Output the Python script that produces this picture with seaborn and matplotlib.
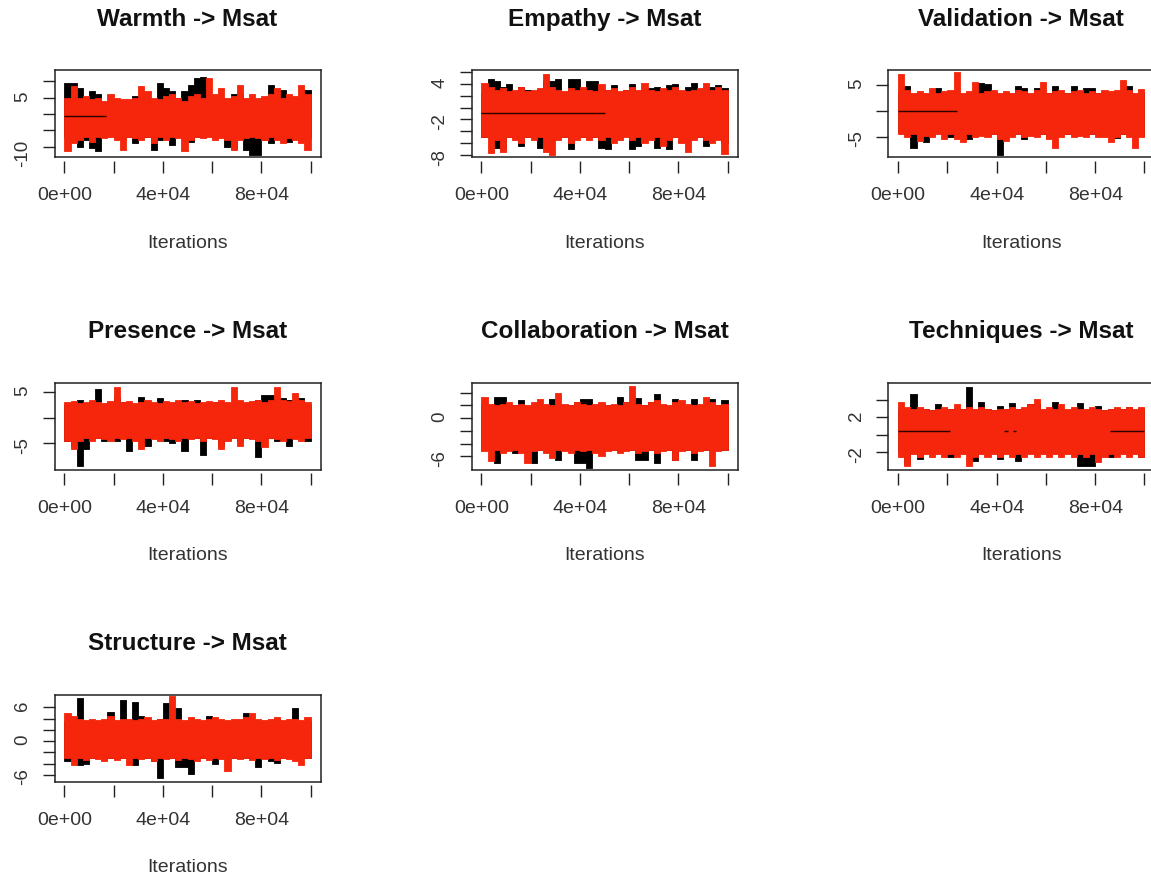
import numpy as np
import pandas as pd
import matplotlib
matplotlib.use("Agg")
import matplotlib.pyplot as plt
import seaborn as sns

n_iter = 100000
x_ticks = [0, 20000, 40000, 60000, 80000, 100000]
x_labels = ["0e+00", "", "4e+04", "", "8e+04", ""]

titles = ["Warmth -> Msat", "Empathy -> Msat", "Validation -> Msat",
          "Presence -> Msat", "Collaboration -> Msat", "Techniques -> Msat",
          "Structure -> Msat"]

# trace envelopes read per 2500-iteration block (upper / lower edge of each chain)
warmth_black_hi = [9.5, 9.5, 8, 4, 7, 6, 3, 4, 3.5, 3, 4, 5.5, 3, 4, 3.5, 9.5, 8, 7, 5, 7,
                   9, 11, 11.5, 5, 4, 5, 4, 6, 6, 3.5, 4, 4, 5, 9, 6, 7.5, 4, 4, 5, 7.5]
warmth_black_lo = [-7, -7, -10, -8, -10.5, -11.5, -7, -6.5, -7, -7.5, -7, -9, -7, -7, -11, -8, -7, -9.5, -7, -7,
                   -8.5, -7, -7, -6.5, -7, -7, -10, -10.5, -7, -11, -12.5, -12.7, -8, -9, -7, -7, -8.5, -7, -7, -7.5]
warmth_red_hi = [5, 8.5, 5, 5.5, 4.5, 5, 4, 6, 5, 4.5, 4.5, 5, 8.5, 7, 5, 4.5, 5.5, 6, 5, 4,
                 5.5, 6, 5, 11, 6, 8, 5, 5.5, 9, 5, 6, 5, 5.5, 6, 8, 5, 6, 5.5, 9, 6]
warmth_red_lo = [-11.5, -9, -8, -7, -8.5, -7, -7.5, -7, -8, -11, -7, -7.5, -8, -7, -9, -7, -8, -7, -7.5, -11.5,
                 -8, -7, -7.5, -7, -8, -7.5, -8, -11, -8, -7.5, -7, -7.5, -8, -7, -8, -9, -7.5, -8, -9, -11]

empathy_black_hi = [2.5, 4.8, 4.5, 3.5, 4, 2.5, 3.5, 3, 2.5, 3, 4.5, 4.5, 4.8, 2.5, 4.8, 4.8, 2.5, 4.5, 4.5, 2.5,
                    3, 3.8, 2.5, 3, 4, 2.5, 3, 3.2, 3.5, 3, 3.8, 4, 2.5, 3.5, 4.2, 3, 2.5, 3.5, 3.8, 3.2]
empathy_black_lo = [-5, -4.5, -6.8, -7, -5, -4.5, -6.5, -5, -4.5, -6.8, -5, -4.5, -5, -5, -7, -4.5, -5, -4.5, -5, -6.8,
                    -7, -4.5, -5, -4.5, -7, -6.5, -4.5, -5, -6.8, -4.5, -7, -5, -4.5, -5, -4.5, -5, -6.5, -5, -5, -6]
empathy_red_hi = [4.2, 3.5, 3, 3.2, 2.8, 3, 3.5, 2.8, 3, 3.2, 5.7, 3.5, 3, 2.8, 3.2, 3, 3.5, 3, 2.8, 4,
                  3, 3.2, 2.8, 3, 3.5, 3, 4.2, 3, 2.8, 3.2, 3, 3.5, 3, 2.8, 3, 3.2, 4.2, 3, 3.5, 3]
empathy_red_lo = [-5, -7.7, -5.5, -7.5, -5, -5.5, -6, -5, -5.5, -5, -7.5, -8, -5.5, -5, -6, -5.5, -5, -5.5, -5, -5.5,
                  -5, -6, -5.5, -5, -5.5, -5, -6, -5.5, -5, -6.5, -5.5, -5, -6, -7.5, -5.5, -5, -5.5, -6, -5.5, -7.8]

validation_black_hi = [3.5, 4.9, 3, 3.5, 3, 3, 4.5, 3, 3, 3.5, 3, 3.5, 3, 5.4, 5.2, 3.5, 3, 3.5, 3, 4.8,
                       4.5, 3.2, 4.5, 3, 3.5, 4.8, 3, 3.5, 4.9, 3.5, 4.5, 4.5, 3.5, 3, 3.5, 3, 3.5, 4.9, 3, 3.5]
validation_black_lo = [-4, -4.5, -7.1, -4.5, -6, -4.5, -4, -4.5, -5, -4.5, -5.2, -5.5, -4.5, -4, -4.5, -4.5, -8.6, -4.5, -4, -4.5,
                       -5.5, -4.5, -4, -4.5, -5.2, -4.5, -4, -4.5, -4, -4.5, -4, -4.5, -4, -4.5, -4.5, -5.2, -4.5, -4, -4.5, -4.8]
validation_red_hi = [7.2, 4, 3.5, 3.8, 3.5, 4.5, 3.5, 3.8, 4, 7.5, 3.5, 3.8, 5.5, 3.5, 3.8, 4, 3.5, 3.8, 3.5, 4,
                     3.8, 3.5, 4, 5.5, 3.5, 3.8, 4, 3.5, 3.8, 4, 3.5, 3.8, 3.5, 4, 3.8, 4, 5.9, 4, 3.5, 4.2]
validation_red_lo = [-4.5, -5, -4.5, -5.9, -4.8, -5, -4.5, -5.5, -4.5, -5.5, -6, -4.5, -5, -4.8, -5, -4.5, -5.5, -5.9, -5, -4.5,
                     -5, -4.8, -5, -4.5, -5.5, -7.2, -5, -4.5, -5, -4.8, -5, -4.5, -5, -5, -6, -5, -4.5, -5, -7.2, -5]

presence_black_hi = [2.5, 2.5, 3.5, 2.5, 3, 5.7, 2.5, 3, 4, 3, 2.5, 2.5, 4, 2.5, 2.5, 3.8, 2.5, 2.5, 3, 3.5,
                     2.5, 3.5, 2.5, 2.5, 3, 2.5, 2.5, 2.5, 2.5, 2.5, 3, 3.5, 4.5, 4.5, 3, 3.8, 3.5, 2.5, 3.8, 2.5]
presence_black_lo = [-4.5, -5.5, -9.4, -6, -4, -4, -4.5, -4, -4.5, -4, -6.5, -4, -4, -5.5, -4, -4, -4.5, -5, -4, -6.5,
                     -4, -4, -7.3, -4, -4, -5.5, -4, -4, -4.5, -4, -4, -7.6, -4, -4, -4.5, -4, -5.5, -4, -4, -4.5]
presence_red_hi = [3, 3.2, 2.8, 3, 3.5, 3, 2.8, 3.2, 6, 3, 3.2, 2.8, 3, 3.5, 3, 2.8, 3.2, 3, 3.5, 3,
                   3.2, 2.8, 3, 3.2, 3, 3.5, 3, 6, 3.5, 3, 3.2, 3.5, 3, 3.5, 6.1, 3.5, 3.2, 4.8, 3.5, 3]
presence_red_lo = [-4.5, -6, -4.5, -4, -4.5, -4, -4.2, -4.5, -4, -4.2, -4, -4.5, -6, -4, -4.2, -4.5, -4, -4.2, -4.5, -4,
                   -4.2, -4, -4.5, -4, -4.2, -6, -4.5, -4, -5.5, -4, -4.2, -4.5, -5.8, -4, -4.2, -4.5, -4, -4.2, -4.5, -4]

collaboration_black_hi = [2, 1.8, 3.3, 3.4, 1.8, 2, 2.8, 1.8, 2, 1.8, 2, 3, 1.8, 2, 2, 2.5, 3, 3, 2, 1.8,
                          2, 1.8, 3.3, 2.5, 1.8, 3.2, 2, 2.5, 3.8, 2, 1.8, 3, 2, 2, 3, 2, 1.8, 3, 2, 2.8]
collaboration_black_lo = [-5, -5, -7.1, -5, -5, -5.5, -5, -5, -7, -5, -5, -5, -6.5, -5, -5, -7, -7, -7.8, -5, -5,
                          -5, -5, -5, -5, -5, -6.5, -6.5, -5, -7, -5, -5, -6.5, -5, -5, -6.5, -5, -5, -5, -5, -5]
collaboration_red_hi = [3.4, 2.2, 2, 2.2, 2.5, 2, 2.2, 2, 2.5, 3, 2.2, 2, 4, 2.2, 2, 2.5, 2.2, 2, 2.2, 2.5,
                        2, 2.2, 2, 2.5, 5.1, 2.2, 2, 2.5, 2.8, 2.2, 2, 2.5, 2.8, 2.2, 2, 2.2, 3.4, 2.5, 2, 2.2]
collaboration_red_lo = [-5.2, -6.7, -5, -5.5, -5.2, -5, -5.5, -7, -5.2, -5, -5.5, -6.2, -5, -5.2, -5.5, -5, -5.2, -5, -5.5, -6,
                        -5.2, -5, -5.5, -5.2, -5, -5.5, -5.2, -5, -5.5, -5.2, -5, -6.5, -5.2, -5, -5.5, -5.2, -5, -7.5, -5.2, -5]

techniques_black_hi = [3, 2.8, 4.7, 2.8, 3, 2.8, 3.5, 2.8, 3, 2.8, 3, 5.5, 2.8, 3.8, 3, 2.8, 3.3, 3, 3.6, 3,
                       2.8, 3.5, 3.5, 2.8, 3, 3.8, 3, 2.8, 2.8, 3.6, 2.8, 3, 3.3, 2.8, 3, 2.8, 3, 3.2, 2.8, 3]
techniques_black_lo = [-2, -3.3, -2, -2.8, -2, -2, -2, -2, -2.5, -2, -2, -2, -3, -2, -2, -2, -2.8, -2, -2, -3,
                       -2, -2, -2, -2, -2, -2, -2, -2, -2, -3.5, -3.5, -3.5, -2, -2, -2.5, -2, -2, -2, -2, -2.5]
techniques_red_hi = [3.8, 3.2, 3, 3.2, 3, 2.8, 3, 3.2, 3, 3.5, 3, 3.2, 3, 3.2, 3, 2.8, 3, 3, 3.2, 3,
                     3.2, 3.5, 4.1, 3, 3.2, 3, 3.5, 3, 3.2, 3, 3, 3.2, 3, 2.8, 3, 3.2, 3, 3.2, 3, 3.2]
techniques_red_lo = [-2.5, -3.5, -2.2, -2.5, -2.2, -2.5, -2.2, -2.5, -2.2, -2.5, -2.2, -3.5, -2.5, -2.2, -2.5, -2.2, -2.5, -2.2, -2.5, -2.2,
                     -2.5, -2.2, -2.5, -2.2, -2.5, -2.2, -2.5, -2.2, -2.5, -2.2, -2.5, -2.2, -3.1, -2.5, -2.2, -2.5, -2.2, -2.5, -2.2, -2.5]

structure_black_hi = [3.5, 3.5, 7.6, 3.5, 3.5, 3.5, 3.5, 5.2, 3.5, 7.3, 3.5, 7, 4.5, 3.5, 3.5, 4, 6.8, 3.5, 5.8, 3.5,
                      3.5, 3.5, 3.5, 4.5, 3.5, 3.5, 3.5, 3.5, 3.5, 5, 3.5, 3.5, 3.5, 3.5, 4, 3.5, 3.5, 5.9, 3.5, 3.5]
structure_black_lo = [-3.6, -3.5, -4.2, -4, -3, -3, -3, -3, -3, -3, -3, -4.2, -3, -3, -3.5, -6.5, -3, -3, -4.5, -4.5,
                      -5.8, -3, -3, -3, -4, -3, -3, -3, -3, -3, -3, -4.5, -3, -3.5, -3.8, -3, -3, -3, -3, -3]
structure_red_hi = [5, 4.5, 4, 3.8, 4, 3.8, 4, 4.5, 3.8, 4, 4, 3.8, 4, 4.2, 3.8, 4, 4, 7.9, 4, 3.8,
                    4.2, 4, 3.8, 4, 4.2, 4, 3.8, 4, 4, 4.2, 5, 4, 3.8, 4, 4.2, 3.8, 4, 4, 3.8, 4.2]
structure_red_lo = [-3, -4.3, -3, -3.3, -3, -3.2, -3.5, -3, -3.3, -3, -4.3, -3, -3.2, -3, -3.5, -3, -3.2, -3, -3.3, -3,
                    -3.2, -3.5, -3, -3.3, -3, -3.2, -5.3, -3, -3.2, -3, -3.3, -3, -3.2, -3, -3.3, -3, -3.2, -3.5, -4.3, -3]

# flat stretches seen inside the bands: (start, end, value)
warmth_flat = [(0, 17000, -0.7)]
empathy_flat = [(0, 50000, -1.0)]
validation_flat = [(0, 24000, 0.0)]
techniques_flat = [(0, 21000, 0.5), (43000, 44500, 0.5), (46500, 48000, 0.5), (86000, 100000, 0.5)]

y_ticks = [[-10, -5, 0, 5, 10], [-8, -6, -4, -2, 0, 2, 4, 6], [-5, 0, 5],
           [-5, 0, 5], [-6, -4, -2, 0, 2, 4], [-2, 0, 2, 4], [-6, -4, -2, 0, 2, 4, 6]]
y_shown = [[-10, 5], [-8, -2, 4], [-5, 5], [-5, 5], [-6, 0], [-2, 2], [-6, 0, 6]]
y_limits = [(-13.2, 13.5), (-8.3, 6.3), (-8.9, 7.9), (-10.1, 6.9), (-8.05, 5.6), (-3.95, 6.0), (-7.14, 8.25)]

panels = [
    (warmth_black_hi, warmth_black_lo, warmth_red_hi, warmth_red_lo, warmth_flat),
    (empathy_black_hi, empathy_black_lo, empathy_red_hi, empathy_red_lo, empathy_flat),
    (validation_black_hi, validation_black_lo, validation_red_hi, validation_red_lo, validation_flat),
    (presence_black_hi, presence_black_lo, presence_red_hi, presence_red_lo, []),
    (collaboration_black_hi, collaboration_black_lo, collaboration_red_hi, collaboration_red_lo, []),
    (techniques_black_hi, techniques_black_lo, techniques_red_hi, techniques_red_lo, techniques_flat),
    (structure_black_hi, structure_black_lo, structure_red_hi, structure_red_lo, []),
]

sns.set_theme(style="ticks")
plt.rcParams["font.family"] = ["Liberation Sans", "DejaVu Sans"]

RED = "#f5260c"
W, H = 1151, 884
fig = plt.figure(figsize=(W / 100, H / 100), dpi=100)


def draw_chain(ax, hi, lo, color):
    # each block spans its 2500 iterations; band = min..max of the block edges
    n = len(hi)
    edges = np.linspace(0, n_iter, n + 1)
    hi_ext = list(hi) + [hi[-1]]
    lo_ext = list(lo) + [lo[-1]]
    df = pd.DataFrame({"iteration": np.concatenate([edges, edges]),
                       "value": hi_ext + lo_ext})
    sns.lineplot(data=df, x="iteration", y="value", color=color, lw=0,
                 estimator="mean", errorbar=("pi", 100),
                 err_kws={"step": "post", "alpha": 1, "linewidth": 0.6,
                          "edgecolor": color},
                 ax=ax)


col_left = [54.5, 471.5, 888.3]
row_top = [70, 382.5, 694.5]
box_w, box_h = 266, 87

for i, (bhi, blo, rhi, rlo, flat) in enumerate(panels):
    r, c = divmod(i, 3)
    left, top = col_left[c], row_top[r]
    ax = fig.add_axes([left / W, 1 - (top + box_h) / H, box_w / W, box_h / H])

    draw_chain(ax, bhi, blo, "black")
    draw_chain(ax, rhi, rlo, RED)
    for start, end, val in flat:
        ax.hlines(val, start, end, color="#2a0000", lw=1.0, zorder=5)

    ax.set_xlim(-0.04 * n_iter, 1.04 * n_iter)
    ax.set_ylim(*y_limits[i])
    ax.set_xlabel("")
    ax.set_ylabel("")

    ax.set_yticks(y_ticks[i], labels=[str(t) if t in y_shown[i] else "" for t in y_ticks[i]])
    ax.tick_params(axis="y", length=8.6, width=1, direction="out", labelrotation=90,
                   pad=8, labelsize=13.5, color="#222222", labelcolor="#333333")
    ax.tick_params(axis="x", bottom=False, labelbottom=False)
    for sp in ax.spines.values():
        sp.set_visible(True)
        sp.set_color("#222222")
        sp.set_linewidth(1.1)

    sec = ax.secondary_xaxis(-0.045)
    sec.set_xticks(x_ticks, labels=x_labels)
    sec.spines["bottom"].set_visible(False)
    sec.tick_params(length=8.6, width=1, direction="out", pad=10.5, labelsize=14,
                    color="#222222", labelcolor="#333333")

    ax.set_title(titles[i], fontsize=17.5, fontweight="bold", pad=32, color="#111111")
    ax.annotate("Iterations", xy=(0.5, 0), xycoords="axes fraction", xytext=(0, -62),
                textcoords="offset points", ha="center", va="center", fontsize=14,
                color="#333333")

fig.savefig("out.png", dpi=100)
